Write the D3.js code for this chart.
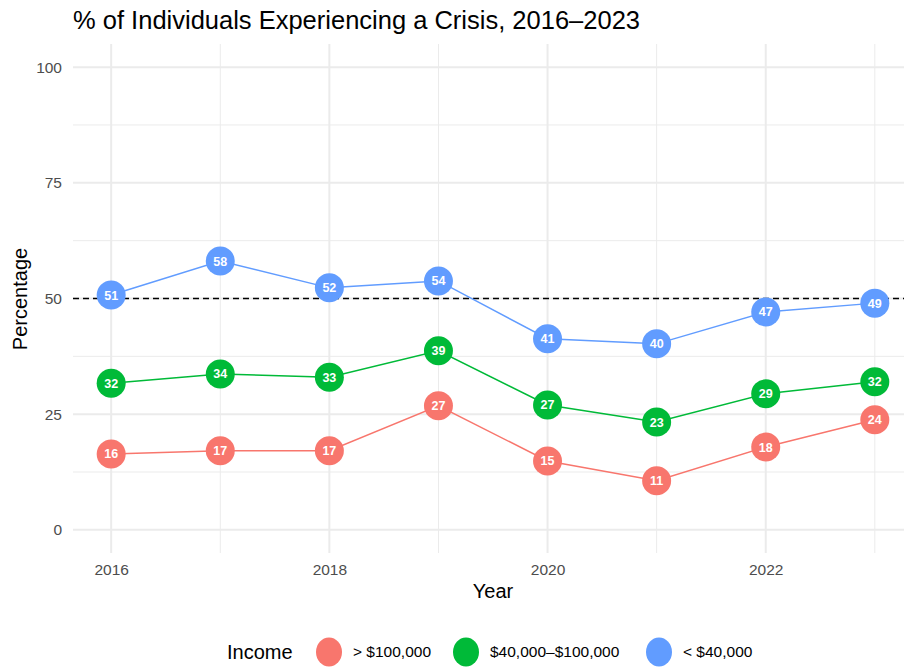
<!DOCTYPE html>
<html>
<head>
<meta charset="utf-8">
<script src="https://cdn.jsdelivr.net/npm/d3@7"></script>
<style>
  body { margin: 0; background: #fff; font-family: "Liberation Sans", Arial, sans-serif; overflow: hidden; }
</style>
</head>
<body>
<div id="area"></div>
<script>
// data
var years = [2016, 2017, 2018, 2019, 2020, 2021, 2022, 2023];
var groups = ['> $100,000', '$40,000\u2013$100,000', '< $40,000'];
var highIncome = [16.4, 17.1, 17.1, 26.8, 14.9, 10.6, 17.9, 23.8];
var midIncome = [31.7, 33.7, 33.0, 38.7, 27.0, 23.3, 29.4, 32.0];
var lowIncome = [50.75, 58.1, 52.3, 53.8, 41.3, 40.2, 47.1, 49.0];
var yTicks = [0, 25, 50, 75, 100];
var xTicks = [2016, 2018, 2020, 2022];
var refLine = 50;

var colors = ['#F8766D', '#00BA38', '#619CFF'];
var series = [highIncome, midIncome, lowIncome];

var width = 904, height = 669;
// panel runs a little past the right edge, as in the reference
var margin = {top: 44, right: -9, bottom: 116, left: 73};
var pw = width - margin.left - margin.right,
    ph = height - margin.top - margin.bottom;

var svg = d3.select('#area').append('svg')
    .attr('width', width)
    .attr('height', height);

var g = svg.append('g')
    .attr('transform', 'translate(' + margin.left + ',' + margin.top + ')');

var x = d3.scaleLinear()
    .domain([2016 - 0.35, 2023 + 0.35])
    .range([0, pw]);

var y = d3.scaleLinear()
    .domain([-5, 105])
    .range([ph, 0]);

// grid
var minorY = d3.range(12.5, 100, 25);
g.selectAll('.ygrid-minor').data(minorY).enter().append('line')
    .attr('x1', 0).attr('x2', pw)
    .attr('y1', function(d) { return y(d); }).attr('y2', function(d) { return y(d); })
    .attr('stroke', '#ebebeb').attr('stroke-width', 1);
g.selectAll('.xgrid-minor').data([2017, 2019, 2021, 2023]).enter().append('line')
    .attr('y1', 0).attr('y2', ph)
    .attr('x1', function(d) { return x(d); }).attr('x2', function(d) { return x(d); })
    .attr('stroke', '#ebebeb').attr('stroke-width', 1);
g.selectAll('.ygrid').data(yTicks).enter().append('line')
    .attr('x1', 0).attr('x2', pw)
    .attr('y1', function(d) { return y(d); }).attr('y2', function(d) { return y(d); })
    .attr('stroke', '#ebebeb').attr('stroke-width', 2);
g.selectAll('.xgrid').data(xTicks).enter().append('line')
    .attr('y1', 0).attr('y2', ph)
    .attr('x1', function(d) { return x(d); }).attr('x2', function(d) { return x(d); })
    .attr('stroke', '#ebebeb').attr('stroke-width', 2);

// axes (labels only, ggplot minimal style)
var yAxis = g.append('g')
    .call(d3.axisLeft(y).tickValues(yTicks).tickSize(0).tickPadding(11));
yAxis.select('.domain').remove();
yAxis.selectAll('text').attr('fill', '#4d4d4d').style('font-size', '15.5px')
    .style('font-family', '"Liberation Sans", Arial, sans-serif');

var xAxis = g.append('g')
    .attr('transform', 'translate(0,' + ph + ')')
    .call(d3.axisBottom(x).tickValues(xTicks).tickFormat(d3.format('d')).tickSize(0).tickPadding(11));
xAxis.select('.domain').remove();
xAxis.selectAll('text').attr('fill', '#4d4d4d').style('font-size', '15.5px')
    .style('font-family', '"Liberation Sans", Arial, sans-serif');

// reference line
g.append('line')
    .attr('x1', 0).attr('x2', pw)
    .attr('y1', y(refLine)).attr('y2', y(refLine))
    .attr('stroke', '#000').attr('stroke-width', 1.5)
    .attr('stroke-dasharray', '6,4');

var line = d3.line()
    .x(function(d, i) { return x(years[i]); })
    .y(function(d) { return y(d); });

series.forEach(function(vals, k) {
  g.append('path')
    .datum(vals)
    .attr('fill', 'none')
    .attr('stroke', colors[k])
    .attr('stroke-width', 1.5)
    .attr('d', line);
});

series.forEach(function(vals, k) {
  var pts = g.selectAll('.pt' + k).data(vals).enter().append('g')
    .attr('transform', function(d, i) { return 'translate(' + x(years[i]) + ',' + y(d) + ')'; });
  pts.append('circle')
    .attr('r', 14.5)
    .attr('fill', colors[k]);
  pts.append('text')
    .attr('text-anchor', 'middle')
    .attr('dy', '0.36em')
    .attr('fill', '#fff')
    .style('font-size', '12.5px')
    .style('font-weight', 'bold')
    .style('font-family', '"Liberation Sans", Arial, sans-serif')
    .text(function(d) { return Math.round(d); });
});

// titles
svg.append('text')
    .attr('x', 73).attr('y', 29)
    .style('font-size', '25.5px')
    .attr('fill', '#000')
    .text('% of Individuals Experiencing a Crisis, 2016\u20132023');

svg.append('text')
    .attr('x', 493).attr('y', 598)
    .attr('text-anchor', 'middle')
    .style('font-size', '20px')
    .text('Year');

svg.append('text')
    .attr('transform', 'translate(27,299) rotate(-90)')
    .attr('text-anchor', 'middle')
    .style('font-size', '20px')
    .text('Percentage');

// legend
var legend = svg.append('g').attr('transform', 'translate(0,652)');
legend.append('text')
    .attr('x', 227).attr('dy', '0.35em')
    .style('font-size', '20px')
    .text('Income');
var legX = [329, 466, 659];
groups.forEach(function(name, k) {
  legend.append('ellipse')
    .attr('cx', legX[k]).attr('cy', 0)
    .attr('rx', 13).attr('ry', 14.5)
    .attr('fill', colors[k]);
  legend.append('text')
    .attr('x', legX[k] + 24).attr('dy', '0.35em')
    .style('font-size', '15.5px')
    .text(name);
});
</script>
</body>
</html>
